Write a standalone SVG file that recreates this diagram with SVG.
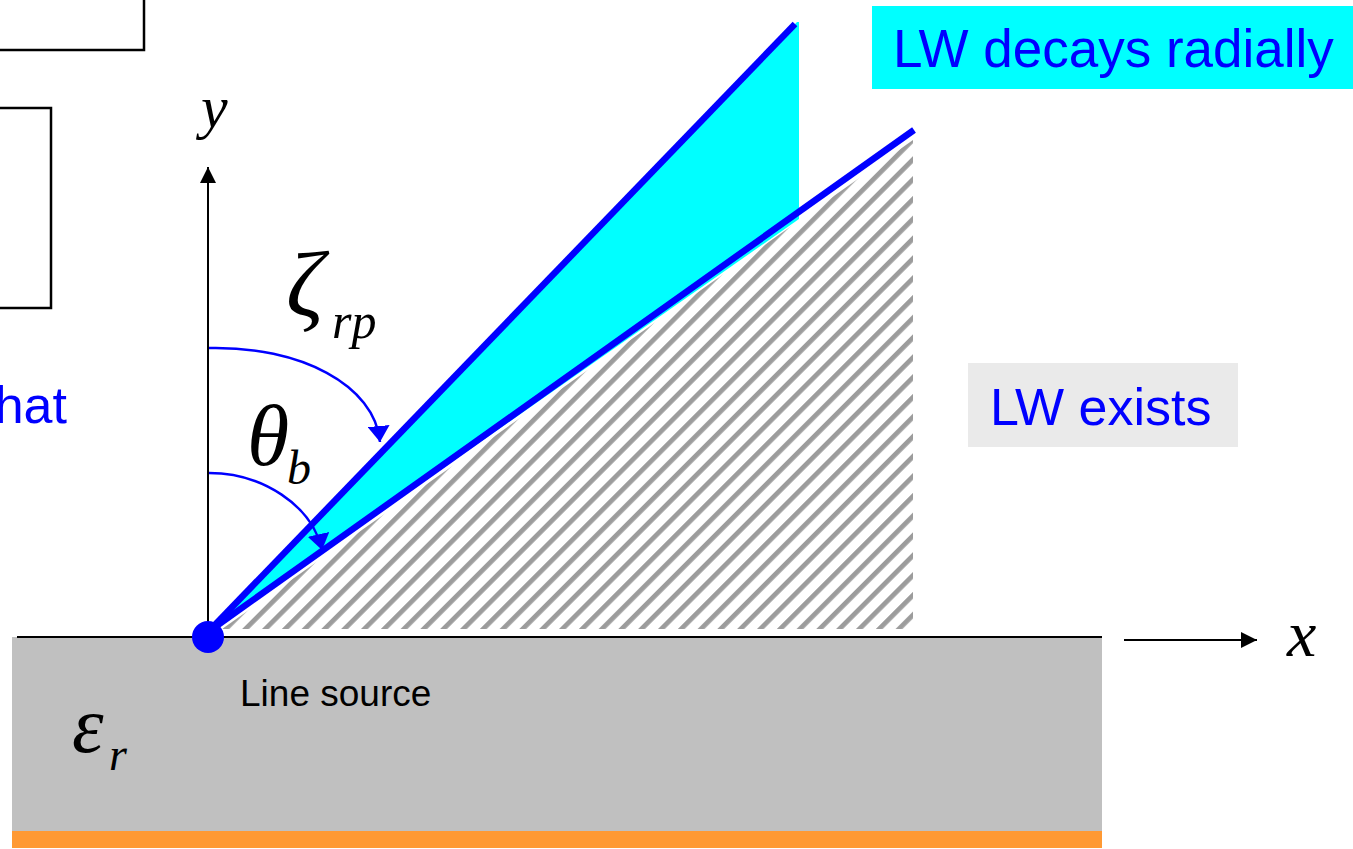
<svg xmlns="http://www.w3.org/2000/svg" width="1353" height="849" viewBox="0 0 1353 849">
<style>
.lbl{font-family:"Liberation Sans",Arial,sans-serif;fill:#0000FF;font-size:52px}
.math{font-family:"Liberation Serif","Times New Roman",serif;font-style:italic;fill:#000}
.box{fill:none;stroke:#000;stroke-width:2.5}
.ray{stroke:#0000FF;stroke-width:6.5;fill:none}
.arc{stroke:#0000FF;stroke-width:2.5;fill:none}
.axis{stroke:#000;stroke-width:2;fill:none}
</style>
<defs>
<pattern id="hatch" patternUnits="userSpaceOnUse" width="14" height="14" patternTransform="rotate(45)">
<rect x="0" y="0" width="4.8" height="14" fill="#9C9C9C"/>
</pattern>
<marker id="barrow" markerUnits="userSpaceOnUse" viewBox="0 0 16 22" refX="16" refY="11" markerWidth="16" markerHeight="22" orient="auto">
<path d="M0,0 L16,11 L0,22 z" fill="#0000FF"/>
</marker>
<marker id="karrow" markerUnits="userSpaceOnUse" viewBox="0 0 16 16" refX="16" refY="8" markerWidth="16" markerHeight="16" orient="auto">
<path d="M0,0 L16,8 L0,16 z" fill="#000"/>
</marker>
</defs>
<rect width="1353" height="849" fill="#fff"/>

<g id="frame-boxes">
<rect class="box" x="-10" y="-10" width="154" height="60"/>
<rect class="box" x="-10" y="108" width="61" height="200"/>
</g>

<g id="substrate">
<rect x="12" y="637" width="1090" height="194" fill="#C0C0C0"/>
<rect x="12" y="831" width="1090" height="17" fill="#FF9933"/>
</g>

<g id="lw-exists-region">
<polygon points="222,629 913,140 913,629" fill="url(#hatch)"/>
</g>

<g id="lw-decay-region">
<polygon points="206,634 797,22 799,22 799,219" fill="#00FFFF"/>
</g>

<g id="connectors">
<line class="axis" x1="17" y1="637" x2="1102" y2="637"/>
<line class="axis" x1="208" y1="632" x2="208" y2="167" marker-end="url(#karrow)"/>
<line class="axis" x1="1124" y1="640" x2="1257" y2="640" marker-end="url(#karrow)"/>
<line class="ray" x1="208" y1="632" x2="795" y2="24"/>
<line class="ray" x1="208" y1="632" x2="914" y2="130"/>
<path class="arc" d="M209,348 C300,346 375,385 380,442" marker-end="url(#barrow)"/>
<path class="arc" d="M209,473 C262,473 312,505 322,550" marker-end="url(#barrow)"/>
</g>

<g id="line-source">
<circle cx="208" cy="637" r="16" fill="#0000FF"/>
<text x="240" y="706" style="font-family:'Liberation Sans',Arial,sans-serif;font-size:37px;fill:#000">Line source</text>
</g>

<g id="labels-math">
<text class="math" x="201" y="127" font-size="60">y</text>
<text class="math" x="1287" y="656" font-size="66">x</text>
<text class="math" x="286" y="316" font-size="94">ζ<tspan font-size="50" x="332" y="338">rp</tspan></text>
<text class="math" x="247" y="465" font-size="86">θ<tspan font-size="48" x="287" y="484">b</tspan></text>
<text class="math" x="72" y="752" font-size="80">ε<tspan font-size="46" x="109" y="770">r</tspan></text>
</g>

<g id="lw-decays">
<rect x="872" y="6" width="481" height="83" fill="#00FFFF"/>
<text class="lbl" x="893" y="67" style="font-size:53px">LW decays radially</text>
</g>

<g id="lw-exists">
<rect x="968" y="363" width="270" height="84" fill="#EAEAEA"/>
<text class="lbl" x="990" y="425">LW exists</text>
</g>

<g id="side-text">
<text class="lbl" x="67" y="423" text-anchor="end">hat</text>
</g>
</svg>
